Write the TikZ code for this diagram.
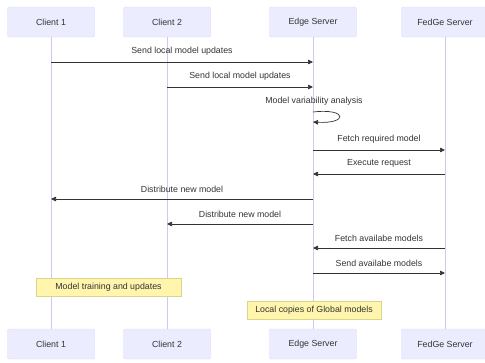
\documentclass[tikz,border=0pt]{standalone}
\usepackage{fontspec}
\setmainfont{Liberation Sans}
\usetikzlibrary{arrows.meta}
\definecolor{actfill}{HTML}{ECECFF}
\definecolor{actline}{HTML}{DCD6F6}
\definecolor{lifeline}{HTML}{D4C6F4}
\definecolor{notefill}{HTML}{FFF5AD}
\definecolor{noteline}{HTML}{D8D68A}
\definecolor{txt}{HTML}{333333}
\begin{document}
\begin{tikzpicture}[x=1pt,y=-1pt,
  actor/.style={draw=actline,fill=actfill,rounded corners=2pt,minimum width=87pt,minimum height=30pt,inner sep=0pt,font=\fontsize{8.8}{10}\selectfont,text=txt},
  note/.style={draw=noteline,fill=notefill,inner sep=0pt,minimum height=18pt,font=\fontsize{8.8}{10}\selectfont,text=txt},
  msg/.style={draw=txt,line width=0.7pt,-{Triangle[length=5pt,width=4.5pt]}},
  lbl/.style={font=\fontsize{8.8}{10}\selectfont,text=txt},
  life/.style={draw=lifeline,line width=0.8pt}]
\useasboundingbox (0,0) rectangle (485,362);
% top actors
\node[actor] (c1t) at (51,22) {Client 1};
\node[actor] (c2t) at (167,22) {Client 2};
\node[actor] (est) at (313,22) {Edge Server};
\node[actor] (fst) at (445,22) {FedGe Server};
% bottom actors
\node[actor] (c1b) at (51,344) {Client 1};
\node[actor] (c2b) at (167,344) {Client 2};
\node[actor] (esb) at (313,344) {Edge Server};
\node[actor] (fsb) at (445,344) {FedGe Server};
% lifelines
\draw[life] (c1t.south) -- (c1b.north);
\draw[life] (c2t.south) -- (c2b.north);
\draw[life] (est.south) -- (esb.north);
\draw[life] (fst.south) -- (fsb.north);
% coordinates on lifelines
\coordinate (c1m1) at (51,62);  \coordinate (es1) at (313,62);
\coordinate (c2m2) at (167,87); \coordinate (es2) at (313,87);
\coordinate (es3a) at (313,112); \coordinate (es3b) at (313,122);
\coordinate (es4) at (313,150); \coordinate (fs4) at (445,150);
\coordinate (es5) at (313,174); \coordinate (fs5) at (445,174);
\coordinate (es6) at (313,199); \coordinate (c1m6) at (51,199);
\coordinate (es7) at (313,224); \coordinate (c2m7) at (167,224);
\coordinate (es8) at (313,248); \coordinate (fs8) at (445,248);
\coordinate (es9) at (313,273); \coordinate (fs9) at (445,273);
% messages
\draw[msg] (c1m1) -- node[lbl,above=2.5pt] {Send local model updates} (es1);
\draw[msg] (c2m2) -- node[lbl,above=2.5pt] {Send local model updates} (es2);
\node[lbl] (l3) at (314,101) {Model variability analysis};
\draw[msg] (es3a) .. controls (348,108) and (348,124) .. (es3b);
\draw[msg] (es4) -- node[lbl,above=2.5pt] {Fetch required model} (fs4);
\draw[msg] (fs5) -- node[lbl,above=2.5pt] {Execute request} (es5);
\draw[msg] (es6) -- node[lbl,above=2.5pt] {Distribute new model} (c1m6);
\draw[msg] (es7) -- node[lbl,above=2.5pt] {Distribute new model} (c2m7);
\draw[msg] (fs8) -- node[lbl,above=2.5pt] {Fetch availabe models} (es8);
\draw[msg] (es9) -- node[lbl,above=2.5pt] {Send availabe models} (fs9);
% notes
\node[note,minimum width=145pt] (n1) at (108.5,287) {Model training and updates};
\node[note,minimum width=134pt] (n2) at (314,310) {Local copies of Global models};
\end{tikzpicture}
\end{document}
